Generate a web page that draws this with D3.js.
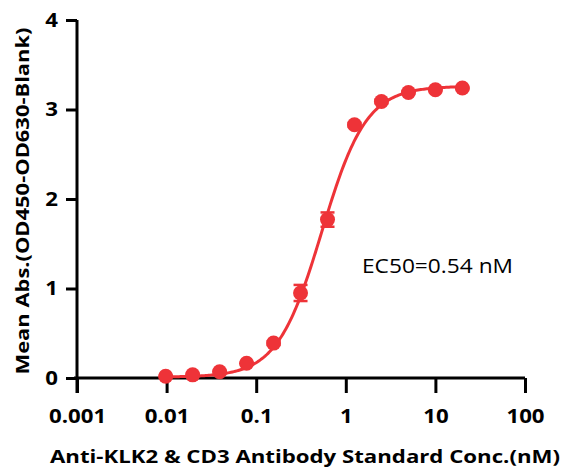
<!DOCTYPE html>
<html>
<head>
<meta charset="utf-8">
<script src="https://cdn.jsdelivr.net/npm/d3@7"></script>
<style>
  body { margin: 0; background: #fff; }
  text { font-family: "Open Sans", Lato, sans-serif; }
</style>
</head>
<body>
<svg id="chart" width="566" height="469"></svg>
<script>
// 2-fold dilution series (nM)
const conc = [0.009765625, 0.01953125, 0.0390625, 0.078125, 0.15625, 0.3125, 0.625, 1.25, 2.5, 5, 10, 20];
const meanAbs = [0.02, 0.035, 0.07, 0.165, 0.39, 0.95, 1.77, 2.83, 3.09, 3.19, 3.22, 3.24];
const errAbs = [0.01, 0.01, 0.01, 0.01, 0.02, 0.09, 0.08, 0.02, 0.02, 0.01, 0.01, 0.01];
const xTicks = [0.001, 0.01, 0.1, 1, 10, 100];
const xTickLabels = ["0.001", "0.01", "0.1", "1", "10", "100"];
const yTicks = [0, 1, 2, 3, 4];
// 4PL fit parameters
const fitBottom = 0.01, fitTop = 3.26, fitEC50 = 0.54, fitHill = 1.75;

const red = "#ee3338";
const svg = d3.select("#chart");

var x = d3.scaleLog().domain([0.001, 100]).range([77, 525]);
var y = d3.scaleLinear().domain([0, 4]).range([378, 20]);

// the original text is a bit wider than the installed fonts
function stretch(sel, k) {
  sel.each(function () {
    const w = this.getComputedTextLength();
    d3.select(this).attr("textLength", w * k).attr("lengthAdjust", "spacingAndGlyphs");
  });
}

// axes
const xAxis = svg.append("g")
  .attr("transform", "translate(0,378)")
  .call(d3.axisBottom(x).tickValues(xTicks).tickFormat((d, i) => xTickLabels[i]).tickSize(15).tickPadding(17));
const yAxis = svg.append("g")
  .attr("transform", "translate(77,0)")
  .call(d3.axisLeft(y).tickValues(yTicks).tickFormat(d3.format("d")).tickSize(11).tickPadding(8));

[xAxis, yAxis].forEach((g) => {
  g.select(".domain").attr("stroke", "#000").attr("stroke-width", 3);
  g.selectAll(".tick line").attr("stroke", "#000").attr("stroke-width", 3);
  g.selectAll(".tick text")
    .attr("fill", "#000")
    .style("font-size", "19px")
    .style("font-weight", "bold")
    .call(stretch, 1.17);
});
xAxis.select(".domain").attr("d", "M74,0H525");
yAxis.select(".domain").attr("d", "M0,20V393");

// axis titles
svg.append("text")
  .attr("x", 305).attr("y", 463)
  .attr("text-anchor", "middle")
  .style("font-size", "18px").style("font-weight", "bold")
  .attr("textLength", 510).attr("lengthAdjust", "spacingAndGlyphs")
  .text("Anti-KLK2 & CD3 Antibody Standard Conc.(nM)");
svg.append("text")
  .attr("transform", "translate(29,201) rotate(-90)")
  .attr("text-anchor", "middle")
  .style("font-size", "18px").style("font-weight", "bold")
  .attr("textLength", 347).attr("lengthAdjust", "spacingAndGlyphs")
  .text("Mean Abs.(OD450-OD630-Blank)");

// fitted curve
const logMin = Math.log10(conc[0]), logMax = Math.log10(conc[conc.length - 1]);
const fitX = d3.range(0, 201).map((i) => Math.pow(10, logMin + (logMax - logMin) * i / 200));
const fit4pl = (c) => fitBottom + (fitTop - fitBottom) / (1 + Math.pow(fitEC50 / c, fitHill));
svg.append("path")
  .datum(fitX)
  .attr("fill", "none")
  .attr("stroke", red)
  .attr("stroke-width", 3)
  .attr("d", d3.line().x((d) => x(d)).y((d) => y(fit4pl(d))));

// error bars
const pts = conc.map((c, i) => ({ c: c, v: meanAbs[i], e: errAbs[i] }));
const eb = svg.append("g").attr("stroke", red).attr("stroke-width", 2.5);
pts.forEach((d) => {
  const cx = x(d.c);
  eb.append("line").attr("x1", cx).attr("x2", cx).attr("y1", y(d.v - d.e)).attr("y2", y(d.v + d.e));
  eb.append("line").attr("x1", cx - 7).attr("x2", cx + 7).attr("y1", y(d.v - d.e)).attr("y2", y(d.v - d.e));
  eb.append("line").attr("x1", cx - 7).attr("x2", cx + 7).attr("y1", y(d.v + d.e)).attr("y2", y(d.v + d.e));
});

// points
svg.append("g")
  .selectAll("circle")
  .data(pts)
  .join("circle")
  .attr("cx", (d) => x(d.c))
  .attr("cy", (d) => y(d.v))
  .attr("r", 7.5)
  .attr("fill", red);

// annotation
svg.append("text")
  .attr("x", 362).attr("y", 273)
  .style("font-size", "20px")
  .attr("fill", "#000")
  .attr("textLength", 151).attr("lengthAdjust", "spacingAndGlyphs")
  .text("EC50=0.54 nM");
</script>
</body>
</html>
